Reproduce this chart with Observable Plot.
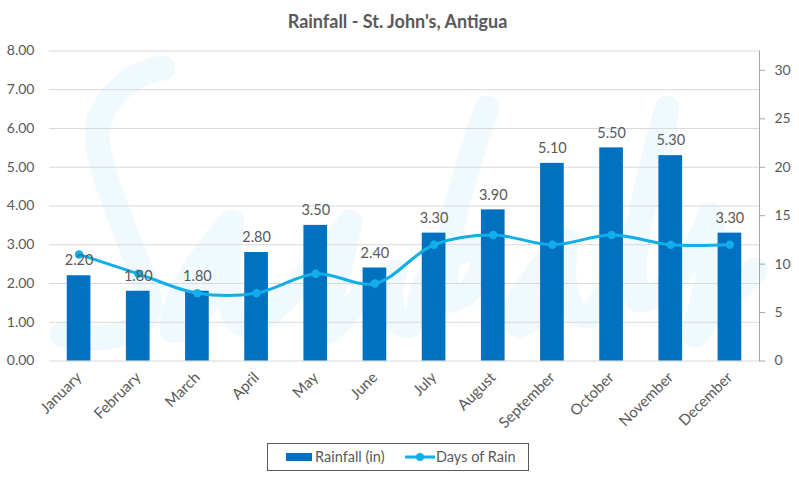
<!DOCTYPE html>
<html>
<head>
<meta charset="utf-8">
<script src="https://cdn.jsdelivr.net/npm/d3@7"></script>
<script src="https://cdn.jsdelivr.net/npm/@observablehq/plot@0.6"></script>
<style>
  html, body { margin: 0; padding: 0; background: #fff; }
  body { width: 799px; height: 479px; position: relative; overflow: hidden; font-family: Lato, sans-serif; color: #595959; }
  #watermark { position: absolute; left: 0; top: 0; z-index: 0; }
  #title { position: relative; z-index: 1; height: 36px; line-height: 42px; text-align: center; font-size: 18px; font-weight: 700; color: #595959; padding-right: 4px; }
  #chart { position: relative; z-index: 1; height: 404px; }
  #chart svg { display: block; }
  #legend { position: absolute; z-index: 1; left: 267px; top: 443px; width: 260px; height: 26px; border: 1px solid #595959; font-size: 14.5px; background: #fff; }
  #legend span, #legend svg { position: absolute; }
  #legend span { top: 0; line-height: 26px; white-space: nowrap; }
</style>
</head>
<body>
<svg id="watermark" width="799" height="479" aria-hidden="true" fill="none" stroke="#f0fafe" stroke-width="25" stroke-linecap="round" stroke-linejoin="round">
  <path d="M163 68C130 72 98 102 97 135C97 170 130 240 148 290C158 325 120 340 90 338L62 335"/>
  <path d="M232 222C205 250 170 300 172 330C190 335 215 300 232 232C225 270 225 320 245 325C270 325 320 260 350 222C340 270 325 310 327 332C345 320 370 280 395 272C385 300 395 330 410 325"/>
  <path d="M487 108C465 170 440 250 447 300C470 300 490 270 480 245C450 250 415 280 420 315"/>
  <path d="M565 240C530 280 500 320 520 325C545 315 560 290 565 250C560 290 570 320 590 315C625 280 660 170 667 108C650 170 625 260 638 300C660 300 690 270 710 215C720 250 700 300 695 335"/>
  <path d="M755 270C740 290 720 300 695 335"/>
</svg>
<div id="title">Rainfall - St. John's, Antigua</div>
<div id="chart"></div>
<div id="legend">
  <svg style="left:18px;top:9px" width="26" height="8"><rect width="26" height="8" fill="#0070c0"/></svg>
  <span style="left:47px">Rainfall (in)</span>
  <svg style="left:137px;top:6px" width="30" height="14"><line x1="0" x2="30" y1="7" y2="7" stroke="#12aeea" stroke-width="3"/><circle cx="15" cy="7" r="4" fill="#12aeea"/></svg>
  <span style="left:168px">Days of Rain</span>
</div>
<script>
const months = ["January","February","March","April","May","June","July","August","September","October","November","December"];
const rainfall = [2.2,1.8,1.8,2.8,3.5,2.4,3.3,3.9,5.1,5.5,5.3,3.3];
const daysOfRain = [11,9,7,7,9,8,12,13,12,13,12,12];
const rainTicks = [0,1,2,3,4,5,6,7,8];
const dayTicks = [0,5,10,15,20,25,30];
const rainMax = 8, dayMax = 32;

const toRain = d => d * rainMax / dayMax;
const rows = months.map((month, i) => ({month, rain: rainfall[i], days: daysOfRain[i]}));
const textColor = "#595959", grid = "#d9d9d9", lineColor = "#12aeea";

const plot = Plot.plot({
  width: 799,
  height: 404,
  marginLeft: 49,
  marginRight: 40,
  marginTop: 14.5,
  marginBottom: 79.5,
  style: {background: "transparent", fontFamily: "Lato, sans-serif", fontSize: "14px", color: textColor},
  x: {type: "band", domain: months, paddingInner: 0.6, paddingOuter: 0.3, round: false, label: null},
  y: {domain: [0, rainMax], label: null},
  marks: [
    Plot.ruleY(rainTicks, {stroke: grid, strokeWidth: 1}),
    Plot.axisY({ticks: rainTicks, tickFormat: d => d.toFixed(2), anchor: "left", tickSize: 0, tickPadding: 15, label: null, fill: textColor, fontSize: 14}),
    Plot.axisY({ticks: dayTicks.map(toRain), tickFormat: d => String(d * dayMax / rainMax), anchor: "right", tickSize: 5, tickPadding: 10, stroke: "#a6a6a6", label: null, fill: textColor, fontSize: 14}),
    Plot.frame({anchor: "right", stroke: "#a6a6a6", strokeWidth: 1}),
    Plot.axisX({tickRotate: -45, tickSize: 0, tickPadding: 14, label: null, fill: textColor, fontSize: 15}),
    Plot.barY(rows, {x: "month", y: "rain", fill: "#0070c0"}),
    Plot.line(rows, {x: "month", y: d => toRain(d.days), stroke: lineColor, strokeWidth: 3, curve: "catmull-rom"}),
    Plot.dot(rows, {x: "month", y: d => toRain(d.days), r: 4.2, fill: lineColor}),
    Plot.text(rows, {x: "month", y: "rain", text: d => d.rain.toFixed(2), dy: -15, fill: textColor, fontSize: 14.5})
  ]
});
document.getElementById("chart").append(plot);
</script>
</body>
</html>
